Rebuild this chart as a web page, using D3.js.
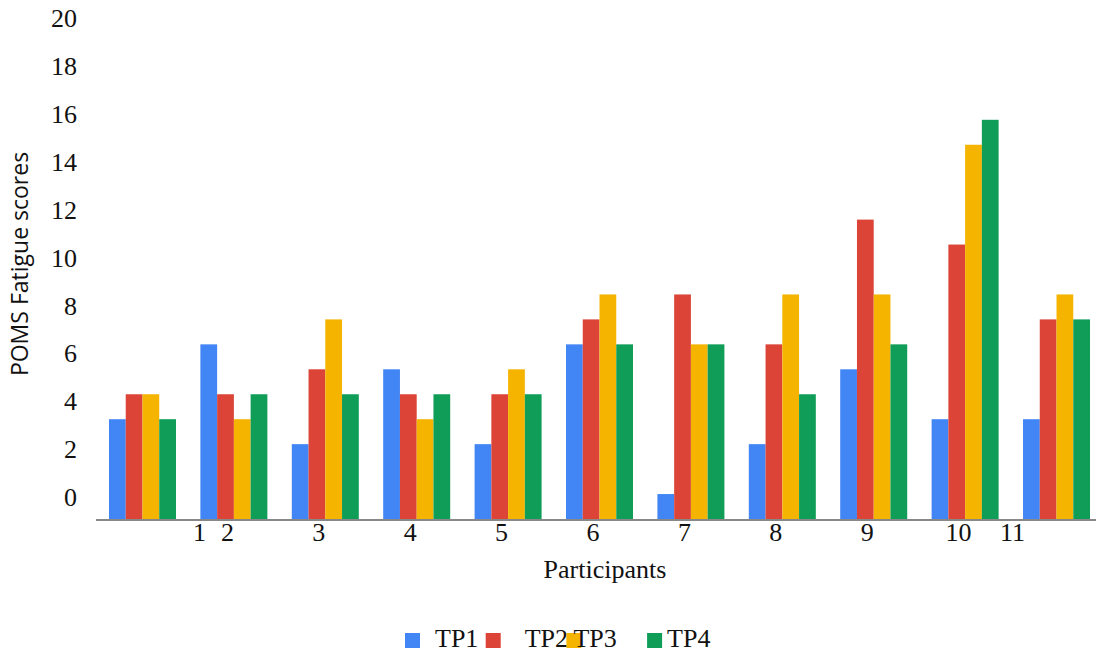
<!DOCTYPE html>
<html>
<head>
<meta charset="utf-8">
<script src="https://cdn.jsdelivr.net/npm/d3@7"></script>
<style>
  body { margin: 0; background: #fff; }
  svg { display: block; }
</style>
</head>
<body>
<div id="chart"></div>
<script>
// data
let participants = ["1", "2", "3", "4", "5", "6", "7", "8", "9", "10", "11"];
let series = ["TP1", "TP2", "TP3", "TP4"];
let tp1 = [4, 7, 3, 6, 3, 7, 1, 3, 6, 4, 4];
let tp2 = [5, 5, 6, 5, 5, 8, 9, 7, 12, 11, 8];
let tp3 = [5, 4, 8, 4, 6, 9, 7, 9, 9, 15, 9];
let tp4 = [4, 5, 5, 5, 5, 7, 7, 5, 7, 16, 8];
let yTicks = [0, 2, 4, 6, 8, 10, 12, 14, 16, 18, 20];
let colors = ["#4285F4", "#DB4437", "#F4B400", "#0F9D58"];

let width = 1096, height = 655;
let values = [tp1, tp2, tp3, tp4];
let serif = "Liberation Serif, Times New Roman, serif";

let svg = d3.select("#chart").append("svg")
  .attr("width", width)
  .attr("height", height);

// scales
let x = d3.scaleBand().domain(participants).range([96, 1103])
  .paddingInner(0.267).paddingOuter(0.142);
let xs = d3.scaleBand().domain(series).range([0, x.bandwidth()]);
let y = d3.scaleLinear().domain([0, 20]).range([519, 20]);
// the tick labels in the original sit a bit above their values
let yLab = d3.scaleLinear().domain([0, 20]).range([497, 18]);

// bars
let groups = svg.append("g").selectAll("g")
  .data(participants)
  .join("g")
  .attr("transform", d => `translate(${x(d)},0)`);

groups.selectAll("rect")
  .data((d, i) => series.map((s, j) => ({ s: s, v: values[j][i], c: colors[j] })))
  .join("rect")
  .attr("x", d => xs(d.s))
  .attr("y", d => y(d.v))
  .attr("width", xs.bandwidth())
  .attr("height", d => y(0) - y(d.v))
  .attr("fill", d => d.c);

// baseline
svg.append("line")
  .attr("x1", 96).attr("x2", width)
  .attr("y1", y(0) + 1).attr("y2", y(0) + 1)
  .attr("stroke", "#888").attr("stroke-width", 2);

// y tick labels
svg.append("g").selectAll("text")
  .data(yTicks)
  .join("text")
  .attr("x", 77)
  .attr("y", d => yLab(d))
  .attr("dy", "0.35em")
  .attr("text-anchor", "end")
  .attr("font-family", serif)
  .attr("font-size", 26)
  .attr("fill", "#111")
  .text(d => d);

// x labels (1 and 11 are shifted in the original)
let labelX = function (d) {
  let c = x.bandwidth() / 2;
  if (d === "1") return x("2") + c - 34.5;
  if (d === "11") return x("10") + c + 47.5;
  return x(d) + c - 6.5;
};
svg.append("g").selectAll("text")
  .data(participants)
  .join("text")
  .attr("x", labelX)
  .attr("y", 541)
  .attr("text-anchor", "middle")
  .attr("font-family", serif)
  .attr("font-size", 26)
  .attr("fill", "#111")
  .text(d => d);

// axis titles
svg.append("text")
  .attr("x", 605).attr("y", 578)
  .attr("text-anchor", "middle")
  .attr("font-family", serif)
  .attr("font-size", 26)
  .attr("fill", "#111")
  .text("Participants");

svg.append("text")
  .attr("transform", "translate(28,264) rotate(-90)")
  .attr("text-anchor", "middle")
  .attr("font-family", "Open Sans, Liberation Sans, sans-serif")
  .attr("font-size", 23)
  .attr("fill", "#111")
  .text("POMS Fatigue scores");

// legend - labels overlap like the original
let textOffset = [30, 39, 7, 20];
let legend = svg.append("g").selectAll("g")
  .data(series)
  .join("g")
  .attr("transform", (d, i) => `translate(${405 + i * 80.7},633)`);
legend.append("rect")
  .attr("width", 15).attr("height", 15)
  .attr("fill", (d, i) => colors[i]);
legend.append("text")
  .attr("x", (d, i) => textOffset[i])
  .attr("y", 14)
  .attr("font-family", serif)
  .attr("font-size", 26)
  .attr("fill", "#111")
  .text(d => d);
</script>
</body>
</html>
